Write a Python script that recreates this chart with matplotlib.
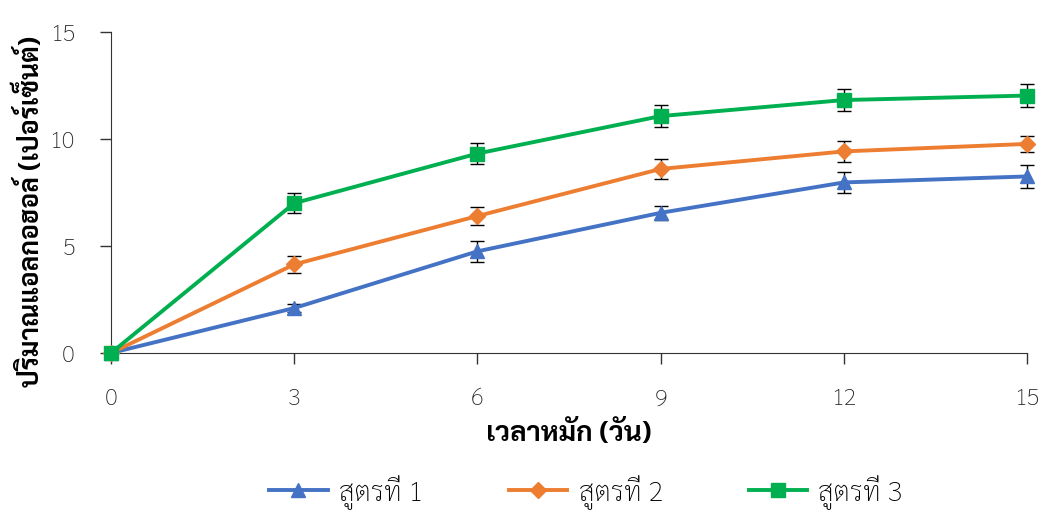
import matplotlib
matplotlib.use("Agg")
import matplotlib.pyplot as plt
from matplotlib import font_manager

# ----------------------
# ข้อมูล (อ่านค่าจากกราฟ)
# ----------------------
days = [0, 3, 6, 9, 12, 15]
names = ["สูตรที่ 1", "สูตรที่ 2", "สูตรที่ 3"]
f1 = [0, 2.1, 4.75, 6.55, 7.97, 8.25]
f2 = [0, 4.14, 6.4, 8.6, 9.42, 9.77]
f3 = [0, 7.0, 9.32, 11.07, 11.82, 12.03]
err1 = [0, 0.2, 0.49, 0.33, 0.49, 0.52]
err2 = [0, 0.4, 0.4, 0.47, 0.49, 0.37]
err3 = [0, 0.47, 0.49, 0.51, 0.51, 0.52]

colors = ["#4472C4", "#ED7D31", "#00B050"]
markers = ["^", "D", "s"]

# หาฟอนต์ภาษาไทยที่มีอยู่
have = set(f.name for f in font_manager.fontManager.ttflist)
thai = "DejaVu Sans"
for name in ["Sarabun", "Noto Sans Thai", "Athiti", "Bai Jamjuree"]:
    if name in have:
        thai = name
        break
plt.rcParams["font.family"] = [thai, "DejaVu Sans"]

fig = plt.figure(figsize=(10.42, 5.11), dpi=100)
ax = fig.add_axes([111 / 1042, 1 - 353 / 511, (1027 - 111) / 1042, (353 - 32) / 511])

for ys, es, c, m, n in zip([f1, f2, f3], [err1, err2, err3], colors, markers, names):
    ms = 10 if m != "D" else 8
    ax.errorbar(days, ys, yerr=es, color=c, lw=2.8, marker=m, ms=ms,
                ecolor="black", elinewidth=1, capsize=5, capthick=1,
                label=n, clip_on=False, zorder=3)

ax.set_xlim(0, 15)
ax.set_ylim(0, 15)
ax.set_xticks(days)
ax.set_yticks([0, 5, 10, 15])
ax.spines["top"].set_visible(False)
ax.spines["right"].set_visible(False)
ax.spines["left"].set_color("#333333")
ax.spines["bottom"].set_color("#333333")
ax.tick_params(axis="both", direction="out", length=8, width=1, colors="#333333",
               labelsize=17, labelcolor="#222222")
ax.tick_params(axis="y", pad=18)
ax.tick_params(axis="x", pad=17)
for t in ax.get_xticklabels() + ax.get_yticklabels():
    t.set_fontweight("light")

ax.set_xlabel("เวลาหมัก (วัน)", fontsize=20, fontweight="bold")
ax.xaxis.set_label_coords(0.5, -0.21)
ax.set_ylabel("ปริมาณแอลกอฮอล์ (เปอร์เซ็นต์)", fontsize=19, fontweight="bold")
ax.yaxis.set_label_coords(-0.072, 0.44)

handles, labels = ax.get_legend_handles_labels()
handles = [h[0] for h in handles]
leg = fig.legend(handles, labels, loc="lower center", bbox_to_anchor=(0.5624, -0.045), ncol=3,
                 frameon=False, fontsize=20, handlelength=2.1, columnspacing=3.1, handletextpad=0.4)
for t in leg.get_texts():
    t.set_fontweight("light")

fig.savefig("out.png")
